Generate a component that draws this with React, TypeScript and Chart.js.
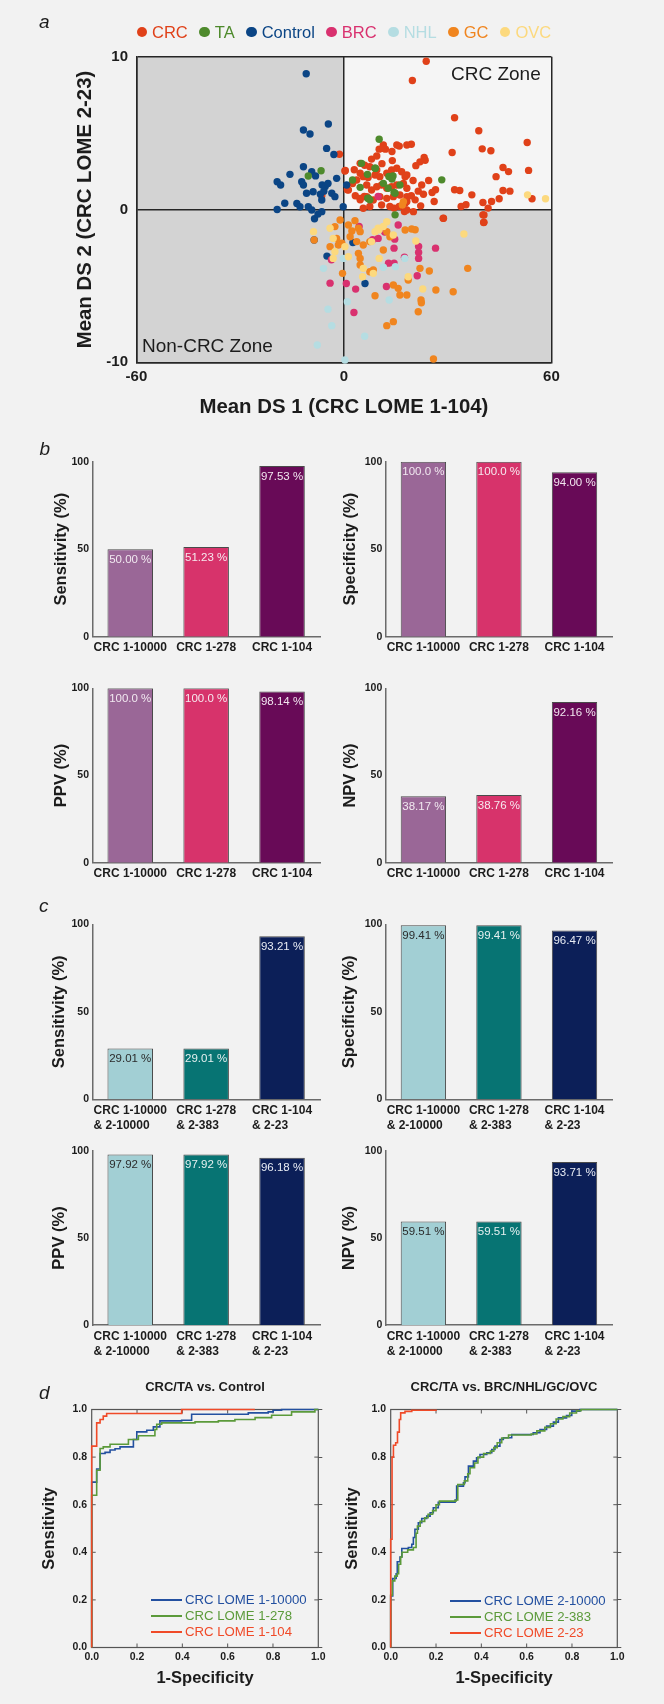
import React, { useEffect, useRef } from 'react';
import { Chart, registerables } from 'chart.js';

Chart.register(...registerables);

const FONT = "'Liberation Sans', Arial, Helvetica, sans-serif";
Chart.defaults.font.family = FONT;
const INK = '#1c1c1c';

// ---------------- Panel a : scatter data ----------------
const GROUP_NAMES = ['CRC', 'TA', 'Control', 'BRC', 'NHL', 'GC', 'OVC'];
const GROUP_COLORS = ['#e04119', '#4e8a2c', '#0b4585', '#d9316f', '#b5dde2', '#f0851f', '#fcd97e'];
const GROUP_ORDER = [7, 5, 6, 4, 2, 3, 1];

const CRC_POINTS: [number, number][] = [
  [23.8, 9.7], [19.8, 8.44], [32, 6.0], [39, 5.15], [53, 4.38], [19.5, 4.27], [16, 4.15], [11.4, 4.22], [12, 3.95],
  [13.9, 3.8], [10.2, 3.95], [15.3, 4.22], [18.2, 4.22], [40, 3.97], [42.5, 3.84], [31.3, 3.73], [23.2, 3.4],
  [23.5, 3.22], [22, 3.12], [20.8, 2.87], [-1.3, 3.62], [46, 2.75], [47.6, 2.48], [53.4, 2.56], [44, 2.15],
  [17.7, 2.15], [46, 1.24], [48, 1.2], [32, 1.29], [33.5, 1.24], [37, 0.96], [40.2, 0.46], [42.7, 0.52], [44.9, 0.7],
  [54.4, 0.7], [33.9, 0.2], [35.3, 0.31], [40.2, -0.35], [40.4, -0.85], [28.8, -0.57], [41.7, 0.09], [26.5, 1.29],
  [25.5, 1.11], [26.1, 0.52], [22.2, 0.24], [20.6, 0.63], [18.2, 0.52], [17.5, -0.13], [14.5, 0.09], [0.4, 2.55],
  [1, 1.29], [4.7, 0.63], [5.9, 0.85], [0.3, 2.52], [1.3, 1.28], [4.7, 3.02], [7.5, 2.8], [9.5, 2.59], [9, 2.26],
  [10.4, 2.15], [12.4, 2.37], [13.8, 2.59], [15.3, 2.7], [16.7, 2.47], [18.2, 2.26], [6.6, 1.6], [8, 1.28],
  [9.5, 1.49], [10.9, 1.6], [12.4, 1.39], [13.8, 1.49], [15.3, 1.6], [17.2, 1.71], [18.2, 1.39], [4.7, 0.73],
  [6.6, 0.84], [8.5, 0.62], [10.4, 0.84], [12.4, 0.73], [14.3, 0.84], [16.2, 0.95], [18.2, 0.84], [5.6, 0.08],
  [10.9, 0.29], [17.7, 0.41], [18.2, -0.03], [3.7, 1.93], [5.6, 2.15], [4.7, 2.37], [28.7, -0.58], [40.5, -0.36],
  [40.5, -0.84], [20.1, -0.14], [11.4, 4.0], [8, 3.3], [6, 2.9], [3, 2.6], [2.5, 1.7], [7, 2.1], [11, 3.0],
  [14, 3.2], [20, 1.9], [21.5, 1.2], [23, 1.0], [24.5, 1.9], [22.5, 1.6], [19.5, 0.9], [3.3, 0.9], [7.5, 0.2],
  [13.3, 0.2], [16, 0.2], [9.5, 3.5], [-6.4, 0.9],
];
const TA_POINTS: [number, number][] = [
  [10.2, 4.6], [5.1, 3.02], [9.1, 2.7], [2.5, 1.93], [4.7, 1.45], [6.9, 0.74], [7.5, 0.63], [13, 2.16], [14.2, 2.2],
  [13.9, 2.0], [11.4, 1.71], [16.2, 1.6], [14.5, 1.11], [28.3, 1.94], [14.8, -0.35], [6.8, 2.3], [-10.3, 2.19],
  [-6.6, 2.54], [9, 2.7], [12.8, 1.39], [14.8, 1.06], [7.1, 0.73],
];
const CONTROL_POINTS: [number, number][] = [
  [-10.9, 8.88], [-11.7, 5.2], [-9.8, 4.94], [-4.5, 5.6], [-5.0, 4.0], [-2.9, 3.6], [-11.7, 2.8], [-15.6, 2.3],
  [-9.3, 2.47], [-19.3, 1.82], [-18.3, 1.6], [-12.2, 1.82], [-11.7, 1.6], [-6.3, 1.6], [-5.4, 1.5], [-6.8, 1.0],
  [-5.8, 1.2], [-4.6, 1.7], [-2.1, 2.04], [-8.9, 1.16], [-10.8, 1.06], [-3.5, 1.06], [-2.6, 0.84], [-6.4, 0.62],
  [-13.6, 0.4], [-12.7, 0.18], [-10.3, 0.18], [-9.3, -0.03], [-19.3, 0], [-6.4, -0.14], [-0.2, 0.18], [0.8, 1.6],
  [-8.5, -0.61], [-8.6, -2.0], [-4.9, -3.05], [2.6, -2.16], [6.1, -4.84], [-17.1, 0.41], [-8.2, 2.2], [-7.5, -0.3],
];
const BRC_POINTS: [number, number][] = [
  [4.4, -1.11], [-3.6, -3.29], [11.8, -1.48], [14.7, -1.94], [14.5, -2.53], [17.5, -3.12], [21.6, -2.42],
  [21.6, -2.81], [26.5, -2.53], [12.9, -3.51], [14.5, -3.51], [12.3, -5.04], [21.2, -4.34], [-4, -4.82],
  [0.7, -4.84], [3.4, -5.21], [2.9, -6.74], [9.9, 0.85], [8.3, -1.98], [21.6, -3.2], [15.7, -1.01], [9.9, -1.89],
];
const NHL_POINTS: [number, number][] = [
  [-5.9, -3.85], [-4.6, -6.52], [-3.5, -7.6], [-7.7, -8.87], [0.3, -9.85], [1, -6.03], [6, -8.3], [11.4, -3.78],
  [13.1, -5.92], [14.9, -3.74], [17.6, -3.2], [-0.2, -3.2],
];
const GC_POINTS: [number, number][] = [
  [-1.1, -0.69], [3.2, -0.73], [-2.6, -1.12], [1.3, -1.01], [4.2, -1.23], [2.3, -1.41], [4.7, -1.45], [-8.6, -2.0],
  [-4, -2.43], [-1.6, -2.32], [-0.6, -2.21], [-2.1, -1.89], [1.8, -1.78], [3.7, -2.1], [5.6, -2.32], [7.5, -2.1],
  [4.2, -2.87], [4.7, -3.2], [4.7, -3.63], [7.5, -4.07], [8.5, -3.96], [-0.4, -4.18], [11.4, -2.65], [12.4, -1.45],
  [13.3, -1.78], [17.7, -1.34], [14.3, -4.94], [15.7, -5.16], [16.2, -5.6], [18.2, -5.6], [9, -5.64], [12.4, -7.6],
  [14.3, -7.34], [21.5, -6.69], [18.6, -4.61], [19.6, -1.28], [22, -3.85], [24.7, -4.02], [35.8, -3.85],
  [26.6, -5.27], [31.6, -5.38], [22.3, -5.92], [22.4, -6.1], [25.9, -9.78], [17.2, 0.51], [16.9, 0.3], [20.6, -1.33],
];
const OVC_POINTS: [number, number][] = [
  [-8.8, -1.45], [-4, -1.23], [-3.1, -1.89], [-2.6, -2.76], [-3.1, -3.2], [0.3, -2.43], [1.3, -3.09], [8, -2.1],
  [9, -1.45], [9.9, -1.23], [12.4, -0.8], [14.3, -1.67], [10.2, -3.2], [5.6, -3.85], [5.4, -4.4], [8.5, -4.18],
  [18.6, -4.4], [34.7, -1.6], [20.8, -2.06], [22.8, -5.2], [53.1, 0.96], [58.3, 0.7], [10.2, -1.33], [11.4, -1.11],
];
const GROUP_POINTS = [CRC_POINTS, TA_POINTS, CONTROL_POINTS, BRC_POINTS, NHL_POINTS, GC_POINTS, OVC_POINTS];
const SCATTER_X_TITLE = 'Mean DS 1 (CRC LOME 1-104)';
const SCATTER_Y_TITLE = 'Mean DS 2 (CRC LOME 2-23)';

// ---------------- Panels b, c : bar data ----------------
const B_CATEGORIES = ['CRC 1-10000', 'CRC 1-278', 'CRC 1-104'];
const C_CATEGORIES = [['CRC 1-10000', '& 2-10000'], ['CRC 1-278', '& 2-383'], ['CRC 1-104', '& 2-23']];
const B_SENSITIVITY = [50.0, 51.23, 97.53];
const B_SPECIFICITY = [100.0, 100.0, 94.0];
const B_PPV = [100.0, 100.0, 98.14];
const B_NPV = [38.17, 38.76, 92.16];
const C_SENSITIVITY = [29.01, 29.01, 93.21];
const C_SPECIFICITY = [99.41, 99.41, 96.47];
const C_PPV = [97.92, 97.92, 96.18];
const C_NPV = [59.51, 59.51, 93.71];
const B_COLORS = ['#9a6797', '#d7336b', '#680a57'];
const C_COLORS = ['#a2cfd4', '#077473', '#0c1f58'];
const B_TEXT = ['#f1e8f0', '#f6e9ef', '#f1e6ef'];
const C_TEXT = ['#2b2b2b', '#e6f0f0', '#e8ecf4'];

// ---------------- Panel d : ROC data [FPR, TPR] ----------------
const ROC_LEFT_NAMES = ['CRC LOME 1-10000', 'CRC LOME 1-278', 'CRC LOME 1-104'];
const ROC_RIGHT_NAMES = ['CRC LOME 2-10000', 'CRC LOME 2-383', 'CRC LOME 2-23'];
const ROC_COLORS = ['#2350a0', '#5b9a3a', '#f04a28'];
const ROC_L_10000: [number, number][] = [
  [0, 0], [0, 0.695], [0.022, 0.75], [0.037, 0.815], [0.059, 0.82], [0.081, 0.83], [0.103, 0.835], [0.125, 0.843],
  [0.184, 0.874], [0.199, 0.906], [0.243, 0.913], [0.272, 0.927], [0.301, 0.952], [0.397, 0.955], [0.441, 0.98],
  [0.691, 0.986], [0.779, 0.99], [0.801, 0.997], [0.838, 1], [1, 1],
];
const ROC_L_278: [number, number][] = [
  [0, 0], [0, 0.64], [0.022, 0.745], [0.037, 0.836], [0.051, 0.843], [0.081, 0.854], [0.162, 0.874], [0.206, 0.89],
  [0.279, 0.916], [0.287, 0.938], [0.309, 0.944], [0.456, 0.948], [0.559, 0.952], [0.632, 0.958], [0.721, 0.966],
  [0.794, 0.976], [0.882, 0.99], [0.985, 1], [1, 1],
];
const ROC_L_104: [number, number][] = [
  [0, 0], [0, 0.846], [0.022, 0.944], [0.037, 0.958], [0.051, 0.972], [0.066, 0.983], [0.397, 1], [0.72, 1],
];
const ROC_R_10000: [number, number][] = [
  [0, 0], [0, 0.217], [0.009, 0.29], [0.024, 0.31], [0.029, 0.36], [0.041, 0.38], [0.049, 0.416], [0.078, 0.42],
  [0.093, 0.434], [0.1, 0.462], [0.107, 0.497], [0.122, 0.524], [0.137, 0.542], [0.159, 0.552], [0.174, 0.566],
  [0.188, 0.587], [0.21, 0.61], [0.284, 0.62], [0.291, 0.678], [0.321, 0.692], [0.328, 0.717], [0.343, 0.762],
  [0.365, 0.783], [0.379, 0.797], [0.394, 0.811], [0.424, 0.818], [0.446, 0.832], [0.46, 0.846], [0.482, 0.874],
  [0.497, 0.881], [0.534, 0.895], [0.629, 0.902], [0.659, 0.916], [0.688, 0.93], [0.718, 0.947], [0.74, 0.965],
  [0.776, 0.975], [0.799, 0.993], [0.835, 1], [1, 1],
];
const ROC_R_383: [number, number][] = [
  [0, 0], [0, 0.22], [0.007, 0.28], [0.018, 0.3], [0.029, 0.31], [0.035, 0.35], [0.044, 0.38], [0.05, 0.4],
  [0.075, 0.41], [0.1, 0.42], [0.112, 0.48], [0.118, 0.51], [0.13, 0.53], [0.15, 0.545], [0.165, 0.56],
  [0.185, 0.575], [0.2, 0.6], [0.215, 0.615], [0.288, 0.62], [0.296, 0.685], [0.325, 0.7], [0.34, 0.73],
  [0.35, 0.755], [0.37, 0.775], [0.385, 0.8], [0.41, 0.815], [0.44, 0.825], [0.455, 0.84], [0.47, 0.86],
  [0.49, 0.88], [0.52, 0.893], [0.62, 0.897], [0.645, 0.91], [0.68, 0.925], [0.705, 0.94], [0.73, 0.96],
  [0.76, 0.97], [0.79, 0.985], [0.82, 0.995], [0.84, 1], [1, 1],
];
const ROC_R_23: [number, number][] = [
  [0, 0], [0, 0.455], [0.006, 0.8], [0.012, 0.85], [0.022, 0.86], [0.03, 0.905], [0.038, 0.958], [0.044, 0.986],
  [0.063, 0.992], [0.093, 0.997], [0.2, 1],
];
const ROC_TICKS_STEP = 0.2;

// ---------------- layout helpers ----------------
type Area = { L: number; R: number; T: number; B: number };
type Place = {
  left: number; top: number; width: number; height: number; yw: number; xh: number;
  padTop: number; padBottom: number; rightSpace: number;
};
function place(area: Area, leftEdge: number, topEdge: number, rightExtra: number, xh: number, titleH = 0): Place {
  const left = Math.round(leftEdge);
  const top = Math.round(topEdge);
  const width = Math.ceil(area.R + rightExtra - left);
  const height = Math.ceil(area.B + xh - top);
  return {
    left, top, width, height, xh,
    yw: area.L - left,
    padTop: area.T - titleH - top,
    padBottom: top + height - area.B - xh,
    rightSpace: left + width - area.R,
  };
}

// ---------------- plugins ----------------
const quadrantPlugin = {
  id: 'quadrants',
  beforeDraw(chart: any) {
    const { ctx, chartArea: a, scales } = chart;
    const x0 = scales.x.getPixelForValue(0);
    const y0 = scales.y.getPixelForValue(0);
    ctx.save();
    ctx.fillStyle = '#d3d3d3';
    ctx.fillRect(a.left, a.top, a.right - a.left, a.bottom - a.top);
    ctx.fillStyle = '#f5f5f5';
    ctx.fillRect(x0, a.top, a.right - x0, y0 - a.top);
    ctx.restore();
  },
};

const catLabelPlugin = {
  id: 'catLabels',
  afterDraw(chart: any, _args: any, opts: any) {
    const { ctx, chartArea } = chart;
    const xs = chart.scales.x;
    ctx.save();
    ctx.font = `bold 12px ${FONT}`;
    ctx.fillStyle = INK;
    ctx.textBaseline = 'middle';
    ctx.textAlign = 'left';
    (xs.getLabels() as any[]).forEach((lab, i) => {
      const lines: string[] = Array.isArray(lab) ? lab : [lab];
      const px = xs.getPixelForValue(i);
      const w0 = ctx.measureText(lines[0]).width;
      lines.forEach((ln, j) => {
        ctx.fillText(ln, px - w0 / 2, chartArea.bottom + opts.first + j * opts.step);
      });
    });
    ctx.restore();
  },
};

function fmtPct(v: number) {
  return (v >= 100 ? v.toFixed(1) : v.toFixed(2)) + ' %';
}

const barValuePlugin = {
  id: 'barValues',
  afterDatasetsDraw(chart: any, _args: any, opts: any) {
    const { ctx } = chart;
    const meta = chart.getDatasetMeta(0);
    const values = chart.data.datasets[0].data as number[];
    ctx.save();
    ctx.font = `11.5px ${FONT}`;
    ctx.textAlign = 'center';
    ctx.textBaseline = 'middle';
    meta.data.forEach((el: any, i: number) => {
      ctx.fillStyle = opts.colors[i];
      ctx.fillText(fmtPct(values[i]), el.x, el.y + opts.offset);
    });
    ctx.restore();
  },
};

const rocBoxPlugin = {
  id: 'rocBox',
  beforeDatasetsDraw(chart: any) {
    const { ctx, chartArea: a, scales } = chart;
    ctx.save();
    ctx.strokeStyle = '#555555';
    ctx.lineWidth = 1.2;
    ctx.strokeRect(a.left, a.top, a.right - a.left, a.bottom - a.top);
    ctx.lineWidth = 1;
    ctx.beginPath();
    scales.x.ticks.forEach((t: any) => {
      if (t.value <= 0 || t.value >= 1) return;
      const px = scales.x.getPixelForValue(t.value);
      ctx.moveTo(px, a.bottom); ctx.lineTo(px, a.bottom - 4);
      ctx.moveTo(px, a.top); ctx.lineTo(px, a.top + 4);
    });
    scales.y.ticks.forEach((t: any) => {
      if (t.value <= 0 || t.value >= 1) return;
      const py = scales.y.getPixelForValue(t.value);
      ctx.moveTo(a.right - 4, py); ctx.lineTo(a.right, py);
      ctx.moveTo(a.left, py); ctx.lineTo(a.left + 4, py);
    });
    ctx.stroke();
    ctx.restore();
  },
};

// ---------------- configs ----------------
const SCATTER_AREA: Area = { L: 136.4, R: 551.4, T: 56.7, B: 362.3 };
const SCATTER_PLACE = place(SCATTER_AREA, 85 - 12.24, 37, 20, 56.95);

function scatterConfig(p: Place): any {
  return {
    type: 'scatter',
    data: {
      datasets: GROUP_NAMES.map((name, i) => ({
        label: name,
        data: GROUP_POINTS[i].map(([x, y]) => ({ x, y })),
        backgroundColor: GROUP_COLORS[i],
        borderWidth: 0,
        pointRadius: 3.7,
        pointHoverRadius: 3.7,
        order: GROUP_ORDER[i],
        clip: false,
      })),
    },
    options: {
      responsive: false, animation: false, devicePixelRatio: 1, events: [],
      layout: { padding: { left: 0, top: p.padTop, right: p.rightSpace, bottom: p.padBottom } },
      plugins: { legend: { display: false }, tooltip: { enabled: false } },
      scales: {
        x: {
          type: 'linear', min: -60, max: 60,
          ticks: { stepSize: 60, color: INK, padding: 5.7, maxRotation: 0, font: { size: 15, weight: 'bold' } },
          grid: { color: '#262626', lineWidth: 1.5, drawTicks: false },
          border: { display: true, color: '#262626', width: 1.5 },
          title: { display: true, text: SCATTER_X_TITLE, color: INK, padding: 0, font: { size: 20.4, weight: 'bold' } },
          afterFit: (s: any) => { s.height = p.xh; },
        },
        y: {
          type: 'linear', min: -10, max: 10,
          ticks: { stepSize: 10, color: INK, padding: 8.4, font: { size: 15, weight: 'bold' } },
          grid: { color: '#262626', lineWidth: 1.5, drawTicks: false },
          border: { display: true, color: '#262626', width: 1.5 },
          title: { display: true, text: SCATTER_Y_TITLE, color: INK, padding: 0, font: { size: 20.4, weight: 'bold' } },
          afterFit: (s: any) => { s.width = p.yw; },
        },
      },
    },
    plugins: [quadrantPlugin],
  };
}

type BarPanel = {
  title: string; values: number[]; cats: any[]; colors: string[]; text: string[];
  area: Area; titleX: number; first: number; xh: number;
};
const BAR_PANELS: BarPanel[] = [
  { title: 'Sensitivity (%)', values: B_SENSITIVITY, cats: B_CATEGORIES, colors: B_COLORS, text: B_TEXT, area: { L: 92.3, R: 320, T: 461.7, B: 636.7 }, titleX: 61.5, first: 11, xh: 22 },
  { title: 'Specificity (%)', values: B_SPECIFICITY, cats: B_CATEGORIES, colors: B_COLORS, text: B_TEXT, area: { L: 385.6, R: 612.3, T: 461.7, B: 636.7 }, titleX: 350.8, first: 11, xh: 22 },
  { title: 'PPV (%)', values: B_PPV, cats: B_CATEGORIES, colors: B_COLORS, text: B_TEXT, area: { L: 92.3, R: 320, T: 688.3, B: 862.7 }, titleX: 61.5, first: 11, xh: 22 },
  { title: 'NPV (%)', values: B_NPV, cats: B_CATEGORIES, colors: B_COLORS, text: B_TEXT, area: { L: 385.6, R: 612.3, T: 688.3, B: 862.7 }, titleX: 350.8, first: 11, xh: 22 },
  { title: 'Sensitivity (%)', values: C_SENSITIVITY, cats: C_CATEGORIES, colors: C_COLORS, text: C_TEXT, area: { L: 92.3, R: 320, T: 924.3, B: 1099.3 }, titleX: 60, first: 11.7, xh: 36 },
  { title: 'Specificity (%)', values: C_SPECIFICITY, cats: C_CATEGORIES, colors: C_COLORS, text: C_TEXT, area: { L: 385.6, R: 612.3, T: 924.3, B: 1099.3 }, titleX: 350, first: 11.7, xh: 36 },
  { title: 'PPV (%)', values: C_PPV, cats: C_CATEGORIES, colors: C_COLORS, text: C_TEXT, area: { L: 92.3, R: 320, T: 1151, B: 1325 }, titleX: 60, first: 11.7, xh: 36 },
  { title: 'NPV (%)', values: C_NPV, cats: C_CATEGORIES, colors: C_COLORS, text: C_TEXT, area: { L: 385.6, R: 612.3, T: 1151, B: 1325 }, titleX: 350, first: 11.7, xh: 36 },
];
const BAR_TITLE_SIZE = 16.5;

function barPlace(panel: BarPanel) {
  return place(panel.area, panel.titleX - BAR_TITLE_SIZE * 0.6, panel.area.T - 10, 6, panel.xh);
}

function barConfig(panel: BarPanel, p: Place): any {
  const axisBorder = { display: true, color: '#6b6b6b', width: 1.5 };
  return {
    type: 'bar',
    data: {
      labels: panel.cats,
      datasets: [{
        data: panel.values,
        backgroundColor: panel.colors,
        borderColor: '#4a4a4a',
        borderWidth: 1,
        barPercentage: 0.6,
        categoryPercentage: 1,
      }],
    },
    options: {
      responsive: false, animation: false, devicePixelRatio: 1, events: [],
      layout: { padding: { left: 0, top: p.padTop, right: p.rightSpace, bottom: p.padBottom } },
      plugins: {
        legend: { display: false }, tooltip: { enabled: false },
        catLabels: { first: panel.first, step: 15 },
        barValues: { colors: panel.text, offset: 10.5 },
      },
      scales: {
        x: {
          ticks: { display: false },
          grid: { display: false, drawTicks: false },
          border: axisBorder,
          afterFit: (s: any) => { s.height = p.xh; },
        },
        y: {
          min: 0, max: 100,
          ticks: { stepSize: 50, color: INK, padding: 3.3, font: { size: 10.5, weight: 'bold' } },
          grid: { display: false, drawTicks: false },
          border: axisBorder,
          title: { display: true, text: panel.title, color: INK, padding: 0, font: { size: BAR_TITLE_SIZE, weight: 'bold' } },
          afterFit: (s: any) => { s.width = p.yw; },
        },
      },
    },
    plugins: [catLabelPlugin, barValuePlugin],
  };
}

type RocPanel = {
  title: string; names: string[]; curves: [number, number][][]; area: Area; titleX: number;
  legendLineX: number; legendRows: number[];
};
const ROC_PANELS: RocPanel[] = [
  { title: 'CRC/TA vs. Control', names: ROC_LEFT_NAMES, curves: [ROC_L_10000, ROC_L_278, ROC_L_104], area: { L: 91.7, R: 318.3, T: 1409.5, B: 1647.5 }, titleX: 50, legendLineX: 151, legendRows: [1600, 1616.2, 1632.4] },
  { title: 'CRC/TA vs. BRC/NHL/GC/OVC', names: ROC_RIGHT_NAMES, curves: [ROC_R_10000, ROC_R_383, ROC_R_23], area: { L: 390.7, R: 617.3, T: 1409.5, B: 1647.5 }, titleX: 352.5, legendLineX: 450, legendRows: [1601, 1617, 1633] },
];
const ROC_AXIS_TITLE_SIZE = 16.5;
const ROC_TITLE_SIZE = 13;
const ROC_TITLE_CENTER_Y = 1388;

function rocPlace(panel: RocPanel) {
  const lh = ROC_TITLE_SIZE * 1.2;
  const topEdge = ROC_TITLE_CENTER_Y - lh / 2;
  const leftEdge = panel.titleX - ROC_AXIS_TITLE_SIZE * 0.6;
  const yw = panel.area.L - Math.round(leftEdge);
  const titleH = panel.area.T - Math.round(topEdge);
  return { p: place(panel.area, leftEdge, topEdge, yw, 40.4, titleH), titleH, lh };
}

function rocConfig(panel: RocPanel, p: Place, titleH: number, lh: number): any {
  const tickFont = { size: 10.5, weight: 'bold' };
  return {
    type: 'line',
    data: {
      datasets: panel.curves.map((c, i) => ({
        label: panel.names[i],
        data: c.map(([x, y]) => ({ x, y })),
        borderColor: ROC_COLORS[i],
        backgroundColor: ROC_COLORS[i],
        borderWidth: 1.6,
        pointRadius: 0,
        stepped: 'before',
        fill: false,
        clip: false,
        order: 3 - i,
      })),
    },
    options: {
      responsive: false, animation: false, devicePixelRatio: 1, events: [],
      layout: { padding: { left: 0, top: p.padTop, right: 0, bottom: p.padBottom } },
      plugins: {
        legend: { display: false }, tooltip: { enabled: false },
        title: {
          display: true, text: panel.title, color: INK,
          font: { size: ROC_TITLE_SIZE, weight: 'bold' },
          padding: { top: 0, bottom: titleH - lh },
        },
      },
      scales: {
        x: {
          type: 'linear', min: 0, max: 1,
          ticks: { stepSize: ROC_TICKS_STEP, color: INK, padding: 3.5, maxRotation: 0, font: tickFont, callback: (v: any) => Number(v).toFixed(1) },
          grid: { display: false, drawTicks: false },
          border: { display: false },
          title: { display: true, text: '1-Specificity', color: INK, padding: 0, font: { size: ROC_AXIS_TITLE_SIZE, weight: 'bold' } },
          afterFit: (s: any) => { s.height = p.xh; },
        },
        y: {
          type: 'linear', min: 0, max: 1,
          ticks: { stepSize: ROC_TICKS_STEP, color: INK, padding: 4.7, font: tickFont, callback: (v: any) => Number(v).toFixed(1) },
          grid: { display: false, drawTicks: false },
          border: { display: false },
          title: { display: true, text: 'Sensitivity', color: INK, padding: 0, font: { size: ROC_AXIS_TITLE_SIZE, weight: 'bold' } },
          afterFit: (s: any) => { s.width = p.yw; },
        },
        y2: {
          type: 'linear', position: 'right', min: 0, max: 1,
          ticks: { display: false, stepSize: ROC_TICKS_STEP },
          grid: { drawOnChartArea: false, drawTicks: true, tickLength: 4, color: '#555555', lineWidth: 1 },
          border: { display: false },
          afterFit: (s: any) => { s.width = p.rightSpace; },
        },
      },
    },
    plugins: [rocBoxPlugin],
  };
}

// ---------------- components ----------------
function ChartCanvas({ p, make }: { p: Place; make: () => any }) {
  const ref = useRef<HTMLCanvasElement | null>(null);
  useEffect(() => {
    if (!ref.current) return;
    const chart = new Chart(ref.current, make());
    return () => chart.destroy();
  }, []);
  return (
    <canvas
      ref={ref}
      width={p.width}
      height={p.height}
      style={{ position: 'absolute', left: p.left, top: p.top, width: p.width, height: p.height }}
    />
  );
}

function PanelLetter({ text, x, y }: { text: string; x: number; y: number }) {
  return (
    <div style={{ position: 'absolute', left: x - 5, top: y - 11, fontSize: 19, lineHeight: '19px', fontStyle: 'italic', color: INK }}>
      {text}
    </div>
  );
}

export default function App() {
  const rocs = ROC_PANELS.map((panel) => ({ panel, ...rocPlace(panel) }));
  return (
    <div
      style={{
        position: 'absolute', left: 0, top: 0, width: 664, height: 1704, overflow: 'hidden',
        background: '#f2f2f2', fontFamily: FONT, color: INK,
      }}
    >
      <ChartCanvas p={SCATTER_PLACE} make={() => scatterConfig(SCATTER_PLACE)} />
      {BAR_PANELS.map((panel, i) => {
        const p = barPlace(panel);
        return <ChartCanvas key={'bar' + i} p={p} make={() => barConfig(panel, p)} />;
      })}
      {rocs.map(({ panel, p, titleH, lh }, i) => (
        <ChartCanvas key={'roc' + i} p={p} make={() => rocConfig(panel, p, titleH, lh)} />
      ))}

      {/* panel a legend */}
      <div
        style={{
          position: 'absolute', left: SCATTER_AREA.L, top: 22, width: SCATTER_AREA.R - SCATTER_AREA.L, height: 20,
          display: 'flex', justifyContent: 'center', alignItems: 'center', gap: 11.5, fontSize: 16.5, lineHeight: '20px',
        }}
      >
        {GROUP_NAMES.map((name, i) => (
          <div key={name} style={{ display: 'flex', alignItems: 'center', color: GROUP_COLORS[i] }}>
            <span style={{ display: 'inline-block', width: 10.5, height: 10.5, borderRadius: '50%', background: GROUP_COLORS[i], marginRight: 5 }} />
            <span>{name}</span>
          </div>
        ))}
      </div>
      <div style={{ position: 'absolute', left: 451, top: 63.5, fontSize: 19, lineHeight: '19px', color: INK }}>CRC Zone</div>
      <div style={{ position: 'absolute', left: 142, top: 335.5, fontSize: 19, lineHeight: '19px', color: INK }}>Non-CRC Zone</div>

      {/* ROC legends */}
      {ROC_PANELS.map((panel, k) => (
        <React.Fragment key={'leg' + k}>
          {panel.names.map((name, i) => (
            <div
              key={name}
              style={{
                position: 'absolute', left: panel.legendLineX, top: panel.legendRows[i] - 8, height: 16,
                display: 'flex', alignItems: 'center', fontSize: 13.2, lineHeight: '16px', color: ROC_COLORS[i], whiteSpace: 'nowrap',
              }}
            >
              <span style={{ display: 'inline-block', width: 31, height: 2, background: ROC_COLORS[i], marginRight: 3 }} />
              <span>{name}</span>
            </div>
          ))}
        </React.Fragment>
      ))}

      <PanelLetter text="a" x={44} y={23} />
      <PanelLetter text="b" x={44.5} y={450} />
      <PanelLetter text="c" x={44} y={907} />
      <PanelLetter text="d" x={44} y={1394} />
    </div>
  );
}
